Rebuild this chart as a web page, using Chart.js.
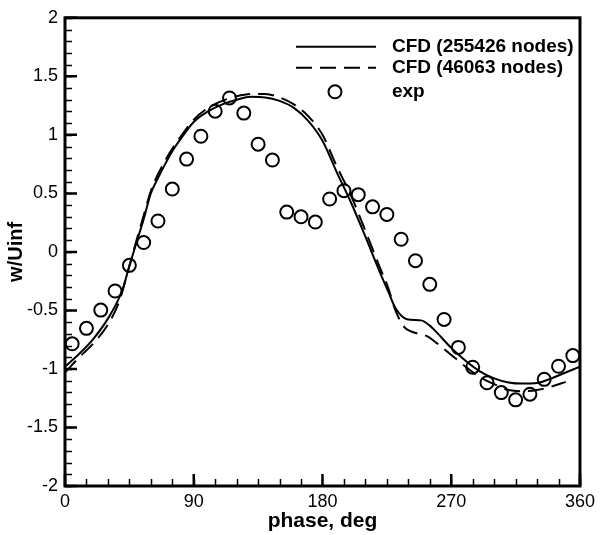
<!DOCTYPE html>
<html>
<head>
<meta charset="utf-8">
<script src="https://cdn.jsdelivr.net/npm/chart.js@4.4.0/dist/chart.umd.min.js"></script>
<style>
  html, body { margin: 0; padding: 0; background: #fff; }
</style>
</head>
<body>
<canvas id="chart" width="600" height="535"></canvas>
<script>
// fine grid CFD (255426 nodes)
const phaseFine = [0, 10, 20, 30, 40, 45, 50, 55, 60, 65, 70, 75, 80, 90, 100, 110, 120, 130, 140, 150,
  160, 170, 180, 190, 200, 210, 220, 226, 231, 239, 249, 255, 260, 270, 280, 290, 300, 310, 320, 330, 340, 350, 360];
const wFine = [-0.98, -0.87, -0.74, -0.57, -0.33, -0.12, 0.08, 0.28, 0.50, 0.63, 0.75, 0.86, 0.95, 1.11, 1.20, 1.26, 1.30, 1.325, 1.32, 1.29,
  1.23, 1.12, 0.95, 0.68, 0.42, 0.13, -0.17, -0.34, -0.48, -0.575, -0.585, -0.63, -0.69, -0.82, -0.93, -1.02, -1.08, -1.115, -1.125, -1.12, -1.08, -1.03, -0.98];

// coarse grid CFD (46063 nodes)
const phaseCoarse = [0, 10, 20, 30, 38, 45, 50, 55, 60, 70, 80, 90, 100, 110, 120, 130, 140, 150, 160, 170,
  180, 190, 200, 210, 220, 226, 231, 237, 242, 253, 260, 270, 280, 290, 300, 310, 320, 330, 340, 350];
const wCoarse = [-1.03, -0.90, -0.78, -0.62, -0.42, -0.12, 0.10, 0.31, 0.52, 0.78, 0.97, 1.13, 1.23, 1.29, 1.33, 1.35, 1.35, 1.32, 1.26, 1.16,
  1.00, 0.73, 0.48, 0.18, -0.13, -0.31, -0.50, -0.64, -0.68, -0.72, -0.78, -0.88, -0.98, -1.07, -1.13, -1.18, -1.19, -1.18, -1.15, -1.11];

// experiment
const phaseExp = [5, 15, 25, 35, 45, 55, 65, 75, 85, 95, 105, 115, 125, 135, 145, 155, 165, 175,
  185, 195, 205, 215, 225, 235, 245, 255, 265, 275, 285, 295, 305, 315, 325, 335, 345, 355];
const wExp = [-0.785, -0.653, -0.497, -0.334, -0.115, 0.08, 0.264, 0.537, 0.793, 0.988, 1.202, 1.315, 1.186, 0.92, 0.785, 0.34, 0.30, 0.255,
  0.452, 0.523, 0.489, 0.385, 0.32, 0.108, -0.075, -0.277, -0.577, -0.816, -0.985, -1.118, -1.202, -1.264, -1.216, -1.089, -0.977, -0.886];

const seriesNames = ['CFD (255426 nodes)', 'CFD (46063 nodes)', 'exp'];

const xTicks = [0, 90, 180, 270, 360];
const yTicks = [-2, -1.5, -1, -0.5, 0, 0.5, 1, 1.5, 2];
const xMinorStep = 15;
const yMinorStep = 0.1;

const FONT = '"Liberation Sans", Arial, Helvetica, sans-serif';

function pts(xs, ys) {
  return xs.map((x, i) => ({x: x, y: ys[i]}));
}

// frame box plus inward ticks (major and minor), placed with the scales
const frameTicks = {
  id: 'frameTicks',
  afterDraw(chart) {
    const ctx = chart.ctx;
    const a = chart.chartArea;
    const xs = chart.scales.x, ys = chart.scales.y;
    ctx.save();
    ctx.setLineDash([]);
    ctx.strokeStyle = '#000';

    ctx.lineWidth = 1.5;
    ctx.beginPath();
    const nx = Math.round((xs.max - xs.min) / xMinorStep);
    for (let k = 0; k <= nx; k++) {
      const px = Math.round(xs.getPixelForValue(xs.min + k * xMinorStep)) + 0.5;
      ctx.moveTo(px, a.bottom);
      ctx.lineTo(px, a.bottom - 7);
    }
    const ny = Math.round((ys.max - ys.min) / yMinorStep);
    for (let k = 0; k <= ny; k++) {
      const py = Math.round(ys.getPixelForValue(ys.min + k * yMinorStep)) + 0.5;
      ctx.moveTo(a.left, py);
      ctx.lineTo(a.left + 7, py);
    }
    ctx.stroke();

    ctx.lineWidth = 2.5;
    ctx.beginPath();
    xTicks.forEach(v => {
      const px = xs.getPixelForValue(v);
      ctx.moveTo(px, a.bottom);
      ctx.lineTo(px, a.bottom - 12);
    });
    yTicks.forEach(v => {
      const py = ys.getPixelForValue(v);
      ctx.moveTo(a.left, py);
      ctx.lineTo(a.left + 12, py);
    });
    ctx.stroke();

    ctx.lineWidth = 3;
    ctx.strokeRect(a.left, a.top, a.right - a.left, a.bottom - a.top);
    ctx.restore();
  }
};

// legend inside the upper right corner, like the original plot
const insideLegend = {
  id: 'insideLegend',
  afterDraw(chart) {
    const {ctx, chartArea: a} = chart;
    const rows = [a.top + 29, a.top + 50, a.top + 74];
    const x0 = a.right - 284, x1 = a.right - 204, tx = a.right - 188;
    ctx.save();
    chart.data.datasets.forEach((ds, i) => {
      const y = rows[i];
      ctx.strokeStyle = '#000';
      if (ds.showLine) {
        ctx.lineWidth = ds.borderWidth;
        ctx.setLineDash(ds.borderDash || []);
        ctx.beginPath();
        ctx.moveTo(x0, y);
        ctx.lineTo(x1, y);
        ctx.stroke();
        ctx.setLineDash([]);
      } else {
        ctx.lineWidth = ds.pointBorderWidth;
        ctx.beginPath();
        ctx.arc((x0 + x1) / 2 - 1, y, ds.pointRadius, 0, Math.PI * 2);
        ctx.stroke();
      }
      ctx.fillStyle = '#000';
      ctx.font = 'bold 19px ' + FONT;
      ctx.textAlign = 'left';
      ctx.textBaseline = 'middle';
      ctx.fillText(ds.label, tx, y);
    });
    ctx.restore();
  }
};

new Chart(document.getElementById('chart'), {
  type: 'scatter',
  data: {
    datasets: [
      {
        label: seriesNames[0],
        data: pts(phaseFine, wFine),
        showLine: true,
        borderColor: '#000',
        borderWidth: 2,
        cubicInterpolationMode: 'monotone',
        pointRadius: 0
      },
      {
        label: seriesNames[1],
        data: pts(phaseCoarse, wCoarse),
        showLine: true,
        borderColor: '#000',
        borderWidth: 2,
        borderDash: [16, 8],
        cubicInterpolationMode: 'monotone',
        pointRadius: 0
      },
      {
        label: seriesNames[2],
        data: pts(phaseExp, wExp),
        showLine: false,
        pointRadius: 6.5,
        pointBorderWidth: 2,
        pointBorderColor: '#000',
        pointBackgroundColor: 'rgba(0,0,0,0)'
      }
    ]
  },
  options: {
    responsive: false,
    animation: false,
    layout: {padding: {top: 13, right: 16, left: 0, bottom: 0}},
    plugins: {
      legend: {display: false},
      tooltip: {enabled: false}
    },
    scales: {
      x: {
        type: 'linear',
        min: 0,
        max: 360,
        afterBuildTicks: s => { s.ticks = xTicks.map(v => ({value: v})); },
        afterFit: s => { s.height = 49; },
        grid: {display: false, drawTicks: false},
        border: {display: false},
        ticks: {
          color: '#000',
          padding: 5,
          maxRotation: 0,
          callback: v => String(v),
          font: {family: FONT, size: 18}
        },
        title: {
          display: true,
          text: 'phase, deg',
          color: '#000',
          padding: {top: 0, bottom: 1},
          font: {family: FONT, size: 21, weight: 'bold'}
        }
      },
      y: {
        type: 'linear',
        min: -2,
        max: 2,
        afterBuildTicks: s => { s.ticks = yTicks.map(v => ({value: v})); },
        afterFit: s => { s.width = 65; },
        grid: {display: false, drawTicks: false},
        border: {display: false},
        ticks: {
          color: '#000',
          padding: 7,
          callback: v => String(v),
          font: {family: FONT, size: 18}
        },
        title: {
          display: true,
          text: 'w/Uinf',
          color: '#000',
          padding: {top: 4, bottom: 0},
          font: {family: FONT, size: 20, weight: 'bold'}
        }
      }
    }
  },
  plugins: [frameTicks, insideLegend]
});
</script>
</body>
</html>
